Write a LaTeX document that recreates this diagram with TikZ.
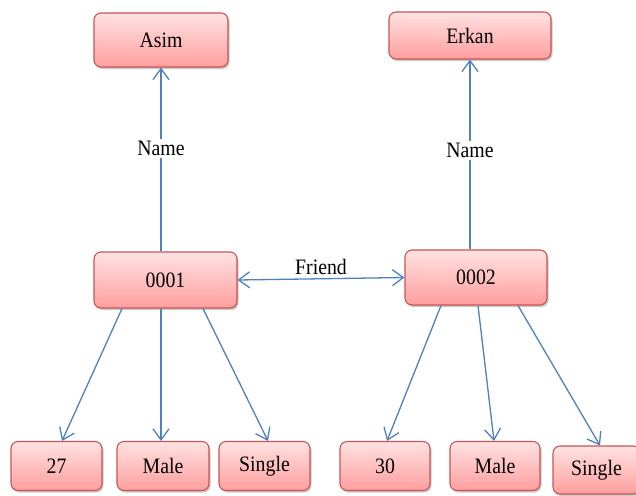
\documentclass[tikz,border=0pt]{standalone}
\usepackage{fontspec}
\setmainfont{Liberation Serif}[FakeStretch=0.9]
\usetikzlibrary{shadows,arrows.meta}
\definecolor{boxtop}{RGB}{255,226,226}
\definecolor{boxbot}{RGB}{255,158,158}
\definecolor{boxline}{RGB}{200,85,85}
\definecolor{arrowblue}{RGB}{79,129,189}
\begin{document}
\begin{tikzpicture}[x=1pt,y=-1pt,
  box/.style={draw=boxline, line width=1.1pt, rounded corners=7pt,
    top color=boxtop, bottom color=boxbot,
    drop shadow={shadow xshift=1.5pt,shadow yshift=-2pt,opacity=0.35,fill=black!60},
    font=\fontsize{22}{26}\selectfont, inner sep=0pt},
  conn/.style={draw=arrowblue, line width=1.3pt, -{Straight Barb[length=11pt,width=16pt]}},
  dconn/.style={draw=arrowblue, line width=1.3pt, {Straight Barb[length=11pt,width=16pt]}-{Straight Barb[length=11pt,width=16pt]}},
  lbl/.style={fill=white, font=\fontsize{22}{26}\selectfont, inner sep=2pt}
]
\useasboundingbox (0,0) rectangle (636,495);
\fill[white] (0,0) rectangle (636,495);
% top nodes
\node[box, minimum width=134pt, minimum height=54pt] (asim) at (161,40) {Asim};
\node[box, minimum width=162pt, minimum height=47pt] (erkan) at (470,35.5) {Erkan};
% middle nodes
\node[box, minimum width=143pt, minimum height=56pt] (n1) at (165.5,280) {0001};
\node[box, minimum width=142pt, minimum height=55pt] (n2) at (476,277.5) {0002};
% bottom nodes
\node[box, minimum width=91pt, minimum height=49pt] (a27) at (56.5,466) {27};
\node[box, minimum width=92pt, minimum height=49pt] (m1) at (163,466) {Male};
\node[box, minimum width=91pt, minimum height=49pt] (s1) at (264.5,466) {Single};
\node[box, minimum width=90pt, minimum height=49pt] (a30) at (385,466) {30};
\node[box, minimum width=90pt, minimum height=49pt] (m2) at (495,466) {Male};
\node[box, minimum width=87pt, minimum height=48pt] (s2) at (596.5,470) {Single};
% name links
\draw[conn] (n1.north -| asim.south) -- node[lbl, pos=0.56] {Name} (asim.south);
\draw[conn] (n2.north -| erkan.south) -- node[lbl, pos=0.52] {Name} (erkan.south);
% friend
\draw[dconn] (n1.east) -- node[above, font=\fontsize{22}{26}\selectfont, inner sep=3pt] {Friend} (n2.west);
% attribute links
\draw[conn] ([xshift=-43.5pt]n1.south) -- ([xshift=5.5pt]a27.north);
\draw[conn] ([xshift=-4.5pt]n1.south) -- ([xshift=-2pt]m1.north);
\draw[conn] ([xshift=37.5pt]n1.south) -- ([xshift=3.5pt]s1.north);
\draw[conn] ([xshift=-35pt]n2.south) -- ([xshift=2pt]a30.north);
\draw[conn] ([xshift=2pt]n2.south) -- ([xshift=-1pt]m2.north);
\draw[conn] ([xshift=42pt]n2.south) -- ([xshift=3.5pt]s2.north);
\end{tikzpicture}
\end{document}
